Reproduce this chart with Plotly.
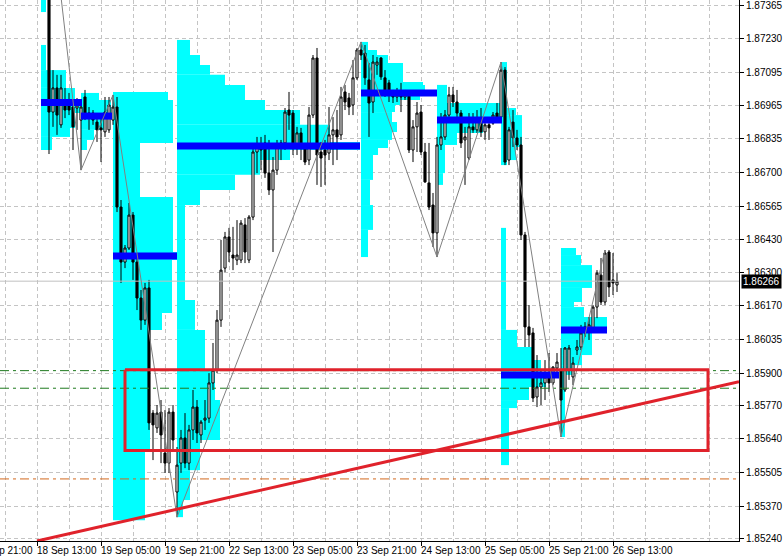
import plotly.graph_objects as go

# ---------------- data (H1 bars, bar index 0 = 18 Sep 13:00) ----------------
bar_idx = list(range(3, 146))
opens = [1.87700, 1.86939, 1.87035, 1.86888, 1.86987, 1.86979, 1.86959, 1.86955, 1.86907, 1.86999,
         1.86919, 1.86935, 1.86899, 1.86876, 1.86860, 1.86868, 1.86907, 1.86959, 1.86561, 1.86342,
         1.86398, 1.86529, 1.86342, 1.86199, 1.86111, 1.86239, 1.85741, 1.85682, 1.85745, 1.85582,
         1.85542, 1.85745, 1.85427, 1.85542, 1.85642, 1.85542, 1.85674, 1.85765, 1.85654, 1.85713,
         1.85721, 1.85861, 1.85912, 1.86111, 1.86318, 1.86442, 1.86370, 1.86350, 1.86350, 1.86490,
         1.86350, 1.86521, 1.86780, 1.86808, 1.86816, 1.86696, 1.86629, 1.86708, 1.86796, 1.86816,
         1.86947, 1.86935, 1.86800, 1.86856, 1.86800, 1.86748, 1.86927, 1.87154, 1.86780, 1.86788,
         1.86776, 1.86848, 1.86868, 1.86848, 1.87019, 1.86995, 1.86967, 1.87075, 1.87186, 1.87174,
         1.87067, 1.86979, 1.87126, 1.87154, 1.87075, 1.87055, 1.87019, 1.86999, 1.87015, 1.86999,
         1.87007, 1.86788, 1.86880, 1.86939, 1.86780, 1.86657, 1.86569, 1.86458, 1.86808, 1.86840,
         1.86927, 1.87007, 1.86979, 1.86935, 1.86828, 1.86756, 1.86880, 1.86868, 1.86915, 1.86860,
         1.86888, 1.86895, 1.86935, 1.86919, 1.87106, 1.86748, 1.86899, 1.86836, 1.86808, 1.86450,
         1.86084, 1.86060, 1.85805, 1.85845, 1.85861, 1.85885, 1.85861, 1.85920, 1.85912, 1.85833,
         1.85912, 1.85885, 1.85992, 1.86004, 1.86060, 1.86072, 1.86080, 1.86163, 1.86290, 1.86183,
         1.86382, 1.86271, 1.86251]
highs = [1.87815, 1.87106, 1.87087, 1.87087, 1.87035, 1.87015, 1.86987, 1.86995, 1.86987, 1.87027,
         1.86959, 1.86947, 1.86935, 1.86935, 1.86999, 1.86999, 1.87007, 1.86999, 1.86589, 1.86410,
         1.86577, 1.86541, 1.86358, 1.86231, 1.86259, 1.86271, 1.85753, 1.85773, 1.85793, 1.85753,
         1.85761, 1.85773, 1.85606, 1.85674, 1.85741, 1.85694, 1.85833, 1.85793, 1.85713, 1.85793,
         1.85900, 1.86020, 1.86151, 1.86430, 1.86462, 1.86478, 1.86482, 1.86509, 1.86509, 1.86517,
         1.86529, 1.86808, 1.86840, 1.86840, 1.86848, 1.86828, 1.86760, 1.86828, 1.86828, 1.86955,
         1.87019, 1.86947, 1.86880, 1.86876, 1.86816, 1.86959, 1.87166, 1.87194, 1.86820, 1.86828,
         1.86959, 1.86919, 1.86947, 1.87039, 1.87047, 1.87015, 1.87146, 1.87194, 1.87218, 1.87206,
         1.87134, 1.87166, 1.87158, 1.87158, 1.87106, 1.87067, 1.87027, 1.87035, 1.87055, 1.87027,
         1.87015, 1.86907, 1.86979, 1.86967, 1.86816, 1.86816, 1.86617, 1.86840, 1.86935, 1.86947,
         1.87039, 1.87039, 1.87027, 1.86947, 1.86880, 1.86935, 1.86935, 1.86947, 1.86955, 1.86919,
         1.86919, 1.86939, 1.86975, 1.87138, 1.87118, 1.86880, 1.86947, 1.86868, 1.86840, 1.86462,
         1.86171, 1.86080, 1.85972, 1.85912, 1.85952, 1.85980, 1.85928, 1.85980, 1.86000, 1.86004,
         1.86012, 1.85964, 1.86032, 1.86092, 1.86103, 1.86123, 1.86171, 1.86310, 1.86358, 1.86390,
         1.86390, 1.86378, 1.86298]
lows = [1.86772, 1.86880, 1.86848, 1.86876, 1.86915, 1.86927, 1.86788, 1.86868, 1.86708, 1.86907,
        1.86868, 1.86888, 1.86820, 1.86740, 1.86840, 1.86856, 1.86888, 1.86541, 1.86259, 1.86318,
        1.86390, 1.86271, 1.86151, 1.86072, 1.86092, 1.85674, 1.85554, 1.85662, 1.85542, 1.85503,
        1.85503, 1.85594, 1.85327, 1.85503, 1.85522, 1.85514, 1.85634, 1.85622, 1.85622, 1.85674,
        1.85702, 1.85833, 1.85900, 1.86084, 1.86302, 1.86342, 1.86310, 1.86330, 1.86338, 1.86338,
        1.86338, 1.86509, 1.86696, 1.86708, 1.86677, 1.86609, 1.86382, 1.86689, 1.86748, 1.86788,
        1.86868, 1.86768, 1.86768, 1.86748, 1.86728, 1.86728, 1.86915, 1.86649, 1.86641, 1.86649,
        1.86748, 1.86728, 1.86748, 1.86828, 1.86947, 1.86927, 1.86927, 1.87067, 1.87146, 1.87047,
        1.86840, 1.86935, 1.87087, 1.87067, 1.86999, 1.86979, 1.86975, 1.86979, 1.86939, 1.86987,
        1.86776, 1.86740, 1.86780, 1.86768, 1.86657, 1.86549, 1.86402, 1.86362, 1.86788, 1.86828,
        1.86907, 1.86959, 1.86895, 1.86796, 1.86649, 1.86748, 1.86856, 1.86856, 1.86840, 1.86828,
        1.86828, 1.86888, 1.86907, 1.86907, 1.86728, 1.86728, 1.86800, 1.86788, 1.86430, 1.86004,
        1.86004, 1.85785, 1.85765, 1.85773, 1.85793, 1.85825, 1.85853, 1.85881, 1.85646, 1.85825,
        1.85873, 1.85853, 1.85972, 1.85992, 1.86044, 1.86032, 1.86064, 1.86119, 1.86171, 1.86171,
        1.86203, 1.86211, 1.86223]
closes = [1.86939, 1.87035, 1.86927, 1.87035, 1.86947, 1.86947, 1.86880, 1.86967, 1.86959, 1.86927,
          1.86935, 1.86907, 1.86868, 1.86868, 1.86939, 1.86967, 1.86959, 1.86561, 1.86342, 1.86398,
          1.86529, 1.86342, 1.86199, 1.86111, 1.86239, 1.85702, 1.85694, 1.85741, 1.85654, 1.85542,
          1.85745, 1.85634, 1.85534, 1.85642, 1.85542, 1.85674, 1.85765, 1.85662, 1.85705, 1.85721,
          1.85861, 1.85912, 1.86111, 1.86310, 1.86442, 1.86382, 1.86358, 1.86370, 1.86497, 1.86382,
          1.86521, 1.86780, 1.86808, 1.86788, 1.86696, 1.86629, 1.86708, 1.86800, 1.86816, 1.86939,
          1.86927, 1.86800, 1.86856, 1.86800, 1.86740, 1.86927, 1.87154, 1.86768, 1.86756, 1.86768,
          1.86848, 1.86868, 1.86840, 1.86999, 1.86979, 1.86959, 1.87075, 1.87186, 1.87166, 1.87075,
          1.86975, 1.87138, 1.87138, 1.87079, 1.87015, 1.87015, 1.86999, 1.87015, 1.86999, 1.87015,
          1.86788, 1.86880, 1.86935, 1.86780, 1.86661, 1.86561, 1.86458, 1.86808, 1.86840, 1.86927,
          1.87007, 1.86979, 1.86935, 1.86816, 1.86840, 1.86880, 1.86868, 1.86915, 1.86860, 1.86888,
          1.86876, 1.86927, 1.86919, 1.87106, 1.86740, 1.86868, 1.86836, 1.86808, 1.86450, 1.86084,
          1.86052, 1.85801, 1.85845, 1.85861, 1.85885, 1.85861, 1.85924, 1.85944, 1.85793, 1.86000,
          1.86000, 1.85940, 1.86004, 1.86060, 1.86084, 1.86092, 1.86163, 1.86298, 1.86183, 1.86378,
          1.86243, 1.86259, 1.86266]

# zigzag swing points (bar index, price)
zz_idx = [2, 11, 19, 35, 81, 100, 116, 131, 142]
zz_price = [1.87950, 1.86708, 1.87007, 1.85327, 1.87218, 1.86362, 1.87138, 1.85646, 1.86390]

# volume profiles between swings: start bar, row edges (price, top->bottom), row volume (in bars)
prof_start = [1, 11, 19, 35, 81, 100, 116, 131]
prof_edges = [
    [1.87544, 1.87337, 1.87206, 1.87106, 1.87035, 1.86991, 1.86963, 1.86935, 1.86876, 1.86840, 1.86788],
    [1.87015, 1.86987, 1.86935, 1.86911, 1.86868, 1.86828, 1.86788],
    [1.87019, 1.86987, 1.86816, 1.86601, 1.86382, 1.86350, 1.86139, 1.86072, 1.85813, 1.85594, 1.85315],
    [1.87226, 1.87166, 1.87126, 1.87087, 1.87047, 1.86987, 1.86947, 1.86888, 1.86820, 1.86788, 1.86748,
     1.86689, 1.86629, 1.86569, 1.86191, 1.86072, 1.85912, 1.85793, 1.85634, 1.85514, 1.85395, 1.85327],
    [1.87218, 1.87186, 1.87166, 1.87134, 1.87059, 1.87047, 1.87023, 1.87007, 1.86987, 1.86967, 1.86939,
     1.86899, 1.86860, 1.86828, 1.86796, 1.86768, 1.86669, 1.86569, 1.86470, 1.86362],
    [1.87047, 1.86975, 1.86915, 1.86895, 1.86856, 1.86808, 1.86696, 1.86649],
    [1.87138, 1.86955, 1.86927, 1.86800, 1.86748, 1.86728, 1.86478, 1.86072, 1.86004, 1.85952, 1.85904,
     1.85881, 1.85845, 1.85793, 1.85761, 1.85534],
    [1.86398, 1.86370, 1.86330, 1.86239, 1.86183, 1.86163, 1.86123, 1.86084, 1.86060, 1.86032, 1.85972,
     1.85932, 1.85893, 1.85646],
]
prof_vol = [
    [1.25, 0, 1.25, 6.25, 8.5, 10.25, 9.75, 8.5, 7.25, 2.75],
    [4.5, 7.5, 7.75, 5.75, 3.25, 1.5],
    [13.75, 15, 6.75, 15, 16, 14.75, 12.25, 9.25, 9.25, 8],
    [3.25, 5.75, 8.25, 12, 17, 22, 30.75, 38.25, 45.75, 28.25, 20.75, 14.5, 5.75, 2, 4.5, 7, 9.5, 10.75,
     5.75, 3.25, 1.5],
    [1.75, 4, 6.75, 10.5, 15.5, 16, 19, 14.75, 9.75, 8.5, 7.75, 9, 7.75, 6.75, 4.25, 3, 2.25, 3, 1.75],
    [2.5, 15.75, 16.25, 11.5, 5, 2, 1.5],
    [1.5, 3.75, 5.25, 3.75, 1.5, 0, 1.25, 4, 7.75, 10, 14.5, 11.25, 7, 4, 2],
    [3.75, 5, 7.75, 5.25, 3.25, 5.75, 11.5, 11.5, 7.75, 7.75, 5.25, 3.25, 1],
]
poc_price = [1.86977, 1.86923, 1.86366, 1.86804, 1.87015, 1.86907, 1.85893, 1.86072]

# objects
rect_idx = [22, 167.75]
rect_price = [1.85913, 1.85592]
trend_idx = [0, 175.5]
trend_price = [1.85232, 1.85866]
hline_green = [1.85910, 1.85840]
hline_orange = [1.85479]
bid_price = 1.86266

# axes
x_range = [-9.25, 175.5]
y_range = [1.852320, 1.873849]
ytick_vals = [1.87365, 1.87230, 1.87095, 1.86965, 1.86835, 1.86700, 1.86565, 1.86430, 1.86300,
              1.86170, 1.86035, 1.85900, 1.85770, 1.85640, 1.85505, 1.85370, 1.85240]
ytick_text = ["%.5f" % v for v in ytick_vals]
xlabel_idx = [-16, 0, 16, 32, 48, 64, 80, 96, 112, 128, 144]
xlabel_text = ["17 Sep 21:00", "18 Sep 13:00", "19 Sep 05:00", "19 Sep 21:00", "22 Sep 13:00",
               "23 Sep 05:00", "23 Sep 21:00", "24 Sep 13:00", "25 Sep 05:00", "25 Sep 21:00",
               "26 Sep 13:00"]

FONT = "Liberation Sans"
GRID = "#c4c4c4"
fig = go.Figure()

# volume profiles
for s, edges, vols in zip(prof_start, prof_edges, prof_vol):
    mids = [(edges[k] + edges[k + 1]) / 2 for k in range(len(vols))]
    hts = [edges[k] - edges[k + 1] for k in range(len(vols))]
    fig.add_trace(go.Bar(orientation="h", y=mids, x=vols, base=s, width=hts,
                         marker=dict(color="#00ffff", line=dict(width=0)), hoverinfo="skip"))

# POC lines
for s, vols, pp in zip(prof_start, prof_vol, poc_price):
    fig.add_trace(go.Scatter(x=[s, s + max(vols)], y=[pp, pp], mode="lines",
                             line=dict(color="#0000ff", width=7), hoverinfo="skip"))

# horizontal level lines
for v in hline_green:
    fig.add_trace(go.Scatter(x=x_range, y=[v, v], mode="lines",
                             line=dict(color="#1f7a1f", width=1, dash="9px,4px,3px,4px"), hoverinfo="skip"))
for v in hline_orange:
    fig.add_trace(go.Scatter(x=x_range, y=[v, v], mode="lines",
                             line=dict(color="#d2691e", width=1, dash="9px,4px,3px,4px"), hoverinfo="skip"))
fig.add_trace(go.Scatter(x=x_range, y=[bid_price, bid_price], mode="lines",
                         line=dict(color="#c0c0c0", width=1), hoverinfo="skip"))

# zigzag
fig.add_trace(go.Scatter(x=zz_idx, y=zz_price, mode="lines",
                         line=dict(color="#808080", width=1), hoverinfo="skip"))

# rectangle and trend line
fig.add_trace(go.Scatter(x=[rect_idx[0], rect_idx[1], rect_idx[1], rect_idx[0], rect_idx[0]],
                         y=[rect_price[0], rect_price[0], rect_price[1], rect_price[1], rect_price[0]],
                         mode="lines", line=dict(color="#e0222b", width=3), hoverinfo="skip"))
fig.add_trace(go.Scatter(x=trend_idx, y=trend_price, mode="lines",
                         line=dict(color="#e0222b", width=3), hoverinfo="skip"))

# candles
fig.add_trace(go.Candlestick(x=bar_idx, open=opens, high=highs, low=lows, close=closes,
                             increasing=dict(line=dict(color="black", width=1), fillcolor="white"),
                             decreasing=dict(line=dict(color="black", width=1), fillcolor="black"),
                             whiskerwidth=0, hoverinfo="skip"))

# x labels (left aligned at their tick, MT4 style)
span = x_range[1] - x_range[0]
for i, t in zip(xlabel_idx, xlabel_text):
    fig.add_annotation(x=(i - x_range[0]) / span, y=0, xref="paper", yref="paper",
                       text=t, showarrow=False, xanchor="left", yanchor="top", xshift=-2, yshift=-2,
                       font=dict(family=FONT, size=10, color="black"))

# bid price box
fig.add_annotation(x=1, y=bid_price, xref="paper", yref="y", text="%.5f" % bid_price,
                   showarrow=False, xanchor="left", yanchor="middle", xshift=2,
                   bgcolor="black", font=dict(family=FONT, size=10, color="white"), borderpad=1)

fig.update_layout(width=783, height=560, margin=dict(l=0, r=44, t=0, b=19),
                  plot_bgcolor="white", paper_bgcolor="white", showlegend=False,
                  barmode="overlay", boxgap=0.25, font=dict(family=FONT, size=10, color="black"))
fig.update_xaxes(range=x_range, showline=True, linecolor="black", linewidth=1,
                 tickmode="array", tickvals=xlabel_idx[1:], ticktext=[""] * (len(xlabel_idx) - 1),
                 ticks="outside", ticklen=4, tickcolor="black",
                 showgrid=True, gridcolor=GRID, griddash="4px,3px", gridwidth=1,
                 minor=dict(tickmode="array", tickvals=list(range(-8, 176, 16)), showgrid=True,
                            gridcolor=GRID, griddash="4px,3px", ticks=""),
                 zeroline=False, rangeslider=dict(visible=False))
fig.update_yaxes(range=y_range, side="right", tickmode="array", tickvals=ytick_vals, ticktext=ytick_text,
                 ticks="outside", ticklen=4, tickcolor="black", showline=True, linecolor="black",
                 linewidth=1, showgrid=True, gridcolor=GRID, griddash="4px,3px", zeroline=False,
                 ticklabeloverflow="allow",
                 tickfont=dict(family=FONT, size=10, color="black"))

fig.write_html("out.html", config={"displayModeBar": False},
               post_script="document.body.style.margin='0px';")
